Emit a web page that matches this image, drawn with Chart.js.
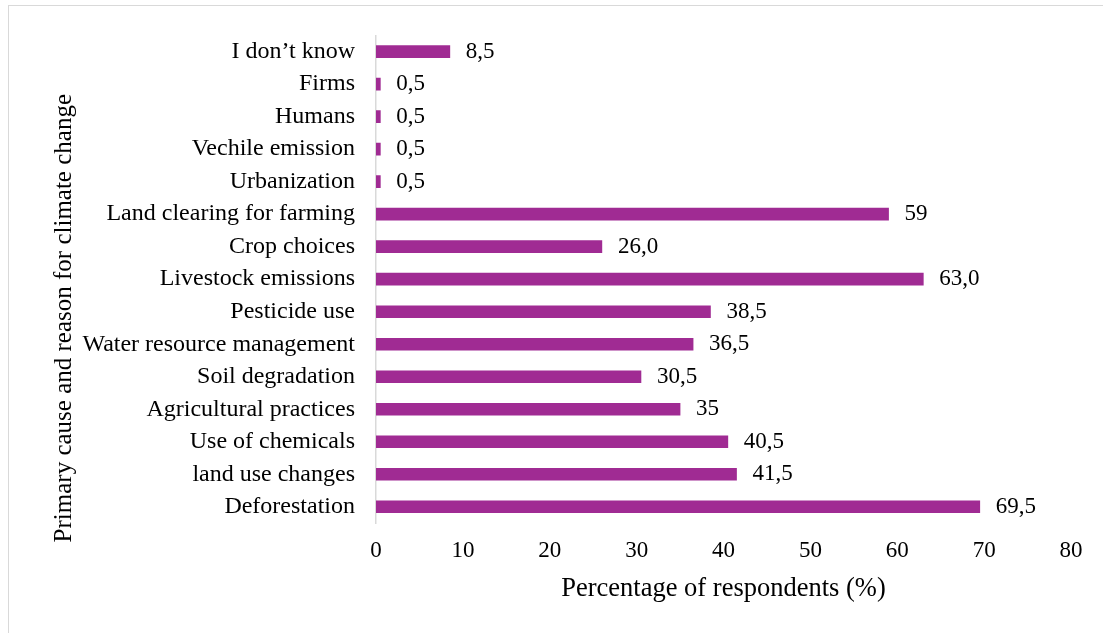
<!DOCTYPE html>
<html>
<head>
<meta charset="utf-8">
<script src="https://cdn.jsdelivr.net/npm/chart.js@4.4.1/dist/chart.umd.min.js"></script>
<style>
  html, body { margin: 0; padding: 0; background: #ffffff; }
  #wrap { position: relative; width: 1103px; height: 633px; overflow: hidden; }
  #frame { position: absolute; left: 8px; top: 5px; width: 1200px; height: 700px;
           border: 1.5px solid #d9d9d9; box-sizing: border-box; pointer-events: none; }
  canvas { position: absolute; left: 0; top: 0; }
</style>
</head>
<body>
<div id="wrap">
  <canvas id="c" width="1103" height="633"></canvas>
  <div id="frame"></div>
</div>
<script>
const categories = [
  "I don\u2019t know",
  "Firms",
  "Humans",
  "Vechile emission",
  "Urbanization",
  "Land clearing for farming",
  "Crop choices",
  "Livestock emissions",
  "Pesticide use",
  "Water resource management",
  "Soil degradation",
  "Agricultural practices",
  "Use of chemicals",
  "land use changes",
  "Deforestation"
];
const percentValues = [8.5, 0.5, 0.5, 0.5, 0.5, 59, 26.0, 63.0, 38.5, 36.5, 30.5, 35, 40.5, 41.5, 69.5];
const valueLabels = ["8,5", "0,5", "0,5", "0,5", "0,5", "59", "26,0", "63,0", "38,5", "36,5", "30,5", "35", "40,5", "41,5", "69,5"];
const xTicks = [0, 10, 20, 30, 40, 50, 60, 70, 80];
const xAxisTitle = "Percentage of respondents (%)";
const yAxisTitle = "Primary cause and reason for climate change";

const FONT = "'Liberation Serif', 'Times New Roman', serif";

const valueLabelPlugin = {
  id: 'valueLabels',
  afterDatasetsDraw(chart) {
    const ctx = chart.ctx;
    const meta = chart.getDatasetMeta(0);
    ctx.save();
    ctx.font = "23px " + FONT;
    ctx.fillStyle = "#000000";
    ctx.textAlign = "left";
    ctx.textBaseline = "middle";
    meta.data.forEach((el, i) => {
      ctx.fillText(valueLabels[i], el.x + 16, el.y);
    });
    ctx.restore();
  }
};

const yTitleShiftPlugin = {
  id: 'yTitleShift',
  afterLayout(chart) {
    const s = chart.scales.y;
    if (s._shiftWrapped) return;
    const orig = Object.getPrototypeOf(s).drawTitle;
    s.drawTitle = function () {
      const t = this.top, b = this.bottom;
      this.top = t + 39;
      this.bottom = b + 39;
      orig.call(this);
      this.top = t;
      this.bottom = b;
    };
    s._shiftWrapped = true;
  }
};

new Chart(document.getElementById('c'), {
  type: 'bar',
  data: {
    labels: categories,
    datasets: [{
      data: percentValues,
      backgroundColor: '#A02B93',
      borderWidth: 0,
      barThickness: 12
    }]
  },
  options: {
    indexAxis: 'y',
    responsive: false,
    animation: false,
    devicePixelRatio: 1,
    layout: { padding: { top: 35, right: 32, bottom: 0, left: 0 } },
    plugins: {
      legend: { display: false },
      tooltip: { enabled: false },
      title: { display: false }
    },
    scales: {
      x: {
        type: 'linear',
        min: 0,
        max: 80,
        afterBuildTicks(scale) { scale.ticks = xTicks.map(v => ({ value: v })); },
        afterFit(scale) { scale.height = 110; },
        grid: { display: false, drawTicks: false },
        border: { display: false },
        ticks: {
          color: '#000000',
          font: { family: FONT, size: 23 },
          padding: 14,
          maxRotation: 0
        },
        title: {
          display: true,
          text: xAxisTitle,
          color: '#000000',
          font: { family: FONT, size: 26.5 },
          padding: { top: 0, bottom: 28 }
        }
      },
      y: {
        afterFit(scale) { scale.width = 376; },
        grid: { display: false, drawTicks: false },
        border: { display: true, color: '#d9d9d9', width: 1.5 },
        ticks: {
          color: '#000000',
          font: { family: FONT, size: 24 },
          padding: 21,
          autoSkip: false
        },
        title: {
          display: true,
          text: yAxisTitle,
          color: '#000000',
          font: { family: FONT, size: 25 },
          padding: { top: 49, bottom: 0 }
        }
      }
    }
  },
  plugins: [valueLabelPlugin, yTitleShiftPlugin]
});
</script>
</body>
</html>
